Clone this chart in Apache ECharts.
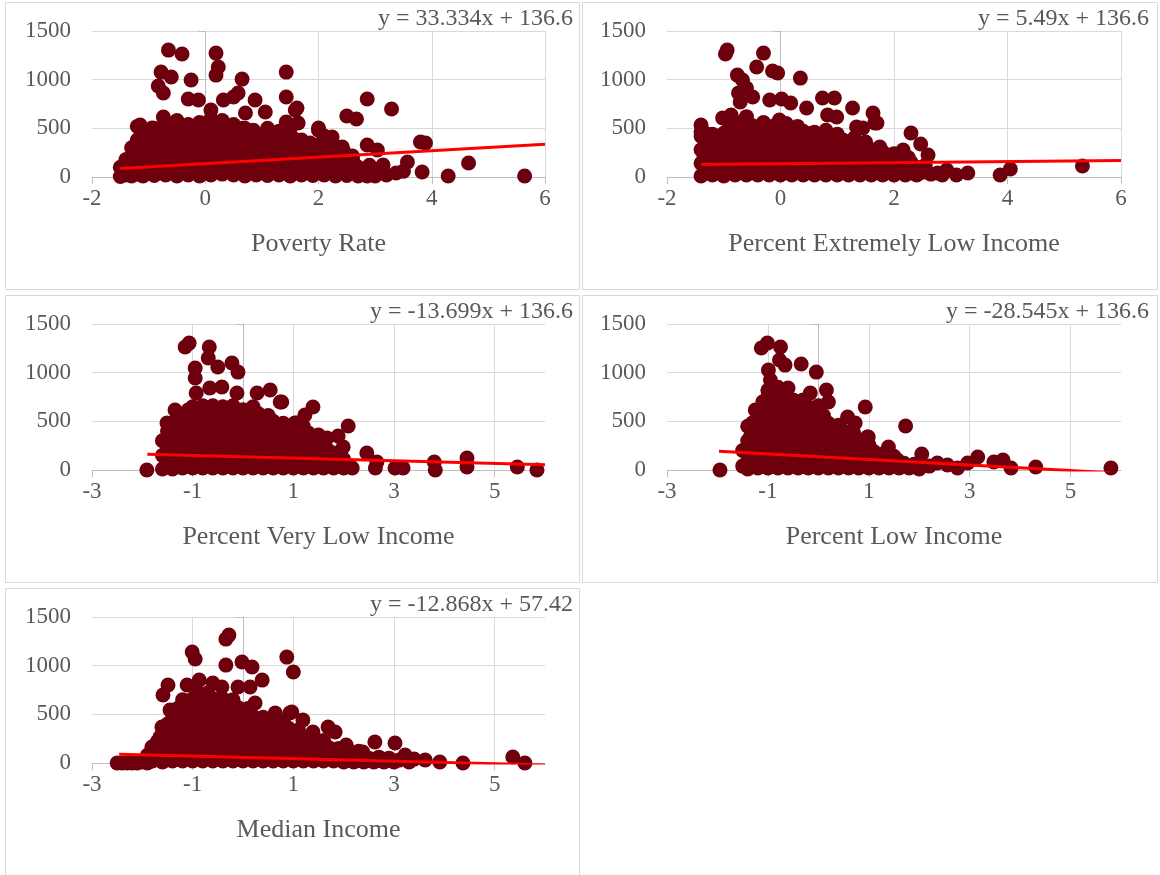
<!DOCTYPE html>
<html>
<head>
<meta charset="utf-8">
<script src="https://cdn.jsdelivr.net/npm/echarts@6/dist/echarts.min.js"></script>
<style>
  html, body { margin: 0; padding: 0; background: #ffffff; }
  #chart { width: 1160px; height: 875px; }
</style>
</head>
<body>
<div id="chart"></div>
<script>
// Standardized predictor (x) vs. outcome count (y), one panel per predictor.
const povertyRate = [
  [-0.65,1304],[-0.41,1263],[0.19,1273],[0.23,1130],[0.19,1047],[-0.78,1078],[-0.6,1027],[-0.25,996],
  [-0.83,935],[-0.74,863],[0.65,1006],[1.43,1078],[1.43,822],[-0.3,801],[-0.12,791],[0.32,791],
  [0.58,863],[0.5,822],[0.88,791],[1.06,668],[0.1,688],[0.71,657],[-0.74,616],[-1.15,534],
  [-0.94,503],[1.59,688],[1.62,709],[1.43,565],[1.64,555],[2.5,626],[2.67,596],[2.86,801],
  [3.29,698],[2.0,503],[2.24,411],[2.42,308],[2.86,329],[3.04,277],[3.8,360],[3.89,349],
  [3.57,154],[3.37,41],[3.83,51],[4.29,10],[4.65,144],[5.64,10],[2.86,10],[3.14,123],[2.6,216],
  [-1.5,5],[-1.5,100],[-1.4,20],[-1.4,180],[-1.3,10],[-1.3,150],[-1.3,300],
  [-1.2,30],[-1.2,200],[-1.2,380],[-1.2,520],[-1.1,10],[-1.1,160],[-1.1,320],[-1.1,480],
  [-1.0,40],[-1.0,240],[-1.0,420],[-0.9,15],[-0.9,170],[-0.9,330],[-0.9,500],
  [-0.8,60],[-0.8,260],[-0.8,450],[-0.7,20],[-0.7,190],[-0.7,370],[-0.7,560],
  [-0.6,80],[-0.6,280],[-0.6,470],[-0.5,10],[-0.5,200],[-0.5,390],[-0.5,580],
  [-0.4,50],[-0.4,250],[-0.4,450],[-0.3,20],[-0.3,180],[-0.3,360],[-0.3,540],
  [-0.2,70],[-0.2,280],[-0.2,470],[-0.1,10],[-0.1,200],[-0.1,380],[-0.1,560],
  [0.0,60],[0.0,260],[0.0,450],[0.1,20],[0.1,190],[0.1,370],[0.1,600],
  [0.2,80],[0.2,300],[0.2,500],[0.3,30],[0.3,210],[0.3,400],[0.3,580],
  [0.4,90],[0.4,280],[0.4,460],[0.5,20],[0.5,200],[0.5,380],[0.5,540],
  [0.6,70],[0.6,260],[0.6,440],[0.7,10],[0.7,180],[0.7,350],[0.7,500],
  [0.8,60],[0.8,240],[0.8,420],[0.9,20],[0.9,190],[0.9,360],
  [1.0,80],[1.0,250],[1.0,440],[1.1,15],[1.1,180],[1.1,340],[1.1,500],
  [1.2,70],[1.2,250],[1.2,420],[1.3,20],[1.3,170],[1.3,330],[1.3,470],
  [1.4,60],[1.4,230],[1.4,400],[1.5,10],[1.5,160],[1.5,320],[1.5,500],
  [1.6,80],[1.6,250],[1.7,20],[1.7,180],[1.7,380],[1.8,90],[1.8,260],
  [1.9,15],[1.9,170],[1.9,330],[2.0,60],[2.0,240],[2.0,480],
  [2.1,20],[2.1,150],[2.1,300],[2.1,420],[2.2,80],[2.2,230],[2.3,10],[2.3,150],[2.3,300],
  [2.4,60],[2.4,200],[2.5,15],[2.5,120],[2.6,50],[2.6,180],[2.7,10],[2.7,100],
  [2.9,30],[2.9,120],[3.0,10],[3.1,90],
  [-1.45,60],[-1.35,120],[-1.25,250],[-1.15,100],[-1.15,400],[-1.05,300],[-1.05,130],[-0.95,250],
  [-0.95,420],[-0.85,120],[-0.85,360],[-0.75,280],[-0.75,460],[-0.65,130],[-0.65,380],[-0.55,300],
  [-0.55,480],[-0.45,140],[-0.45,350],[-0.35,280],[-0.35,460],[-0.25,130],[-0.25,380],[-0.15,300],
  [-0.15,500],[-0.05,130],[-0.05,350],[0.05,280],[0.05,480],[0.15,120],[0.15,420],[0.25,300],
  [0.25,500],[0.35,140],[0.35,350],[0.45,280],[0.45,480],[0.55,120],[0.55,400],[0.65,300],
  [0.65,500],[0.75,130],[0.75,420],[0.85,300],[0.85,480],[0.95,120],[0.95,400],[1.05,300],
  [1.15,120],[1.15,420],[1.25,320],[1.35,120],[1.35,420],[1.45,300],[1.55,120],[1.55,400],
  [1.65,320],[1.75,120],[1.85,350],[1.95,100],[2.05,350],[2.15,100],[2.25,350],[2.35,100],
  [2.45,260],[2.55,80],[2.65,120],[2.8,60],[3.2,20],[3.5,60]
];

const extremelyLowIncome = [
  [-0.94,1304],[-0.97,1263],[-0.3,1273],[-0.42,1130],[-0.14,1089],[-0.05,1068],[0.35,1016],
  [-0.76,1047],[-0.67,996],[-0.74,863],[-0.6,914],[-0.49,822],[-0.71,770],[-0.19,791],[0.02,801],
  [0.18,760],[0.46,709],[0.74,811],[0.95,811],[1.27,709],[1.63,657],[1.66,555],[0.83,637],
  [0.99,616],[-1.4,534],[-1.4,462],[-1.02,606],[-0.87,637],[-0.02,585],[1.34,514],
  [1.7,555],[1.45,503],[2.3,452],[2.47,339],[2.6,226],[2.16,277],[1.75,308],
  [2.77,41],[2.93,72],[3.1,20],[3.3,41],[3.87,20],[4.05,82],[5.32,113],[2.42,41],
  [-1.4,10],[-1.4,140],[-1.4,280],[-1.4,420],[-1.3,60],[-1.3,200],[-1.3,350],
  [-1.2,20],[-1.2,160],[-1.2,300],[-1.2,440],[-1.1,80],[-1.1,230],[-1.1,380],
  [-1.0,10],[-1.0,150],[-1.0,300],[-1.0,450],[-0.9,60],[-0.9,210],[-0.9,360],[-0.9,520],
  [-0.8,20],[-0.8,170],[-0.8,320],[-0.8,470],[-0.7,90],[-0.7,240],[-0.7,400],[-0.7,560],
  [-0.6,20],[-0.6,160],[-0.6,310],[-0.6,460],[-0.6,620],[-0.5,80],[-0.5,230],[-0.5,380],[-0.5,530],
  [-0.4,20],[-0.4,170],[-0.4,320],[-0.4,470],[-0.3,90],[-0.3,240],[-0.3,400],[-0.3,560],
  [-0.2,20],[-0.2,160],[-0.2,310],[-0.2,460],[-0.1,80],[-0.1,230],[-0.1,380],[-0.1,530],
  [0.0,20],[0.0,170],[0.0,320],[0.0,470],[0.1,90],[0.1,240],[0.1,400],[0.1,550],
  [0.2,20],[0.2,160],[0.2,310],[0.2,460],[0.3,80],[0.3,230],[0.3,380],[0.3,520],
  [0.4,20],[0.4,170],[0.4,320],[0.4,470],[0.5,90],[0.5,240],[0.5,400],
  [0.6,20],[0.6,160],[0.6,310],[0.6,460],[0.7,80],[0.7,230],[0.7,380],
  [0.8,20],[0.8,170],[0.8,320],[0.8,480],[0.9,90],[0.9,240],[0.9,400],
  [1.0,20],[1.0,160],[1.0,310],[1.0,440],[1.1,80],[1.1,230],[1.1,380],
  [1.2,20],[1.2,170],[1.2,320],[1.3,90],[1.3,240],[1.3,400],[1.4,20],[1.4,160],[1.4,300],
  [1.5,80],[1.5,220],[1.5,360],[1.6,20],[1.6,150],[1.6,280],[1.7,70],[1.7,200],
  [1.8,20],[1.8,140],[1.8,260],[1.9,60],[1.9,180],[2.0,20],[2.0,130],[2.0,240],
  [2.1,60],[2.1,170],[2.2,20],[2.2,110],[2.3,60],[2.3,150],[2.4,20],[2.4,100],[2.5,50],
  [-1.35,220],[-1.35,460],[-1.25,100],[-1.25,380],[-1.15,300],[-1.05,120],[-1.05,380],[-0.95,280],
  [-0.85,120],[-0.85,400],[-0.75,300],[-0.65,120],[-0.65,390],[-0.55,300],[-0.45,120],[-0.45,400],
  [-0.35,300],[-0.25,120],[-0.25,400],[-0.15,300],[-0.05,120],[-0.05,400],[0.05,300],[0.15,120],
  [0.15,470],[0.25,300],[0.35,120],[0.35,440],[0.45,300],[0.55,120],[0.55,450],[0.65,300],
  [0.75,120],[0.75,430],[0.85,300],[0.95,120],[0.95,350],[1.05,240],[1.15,120],[1.15,320],
  [1.25,250],[1.35,120],[1.35,320],[1.45,230],[1.55,120],[1.65,220],[1.75,120],[1.85,200],
  [1.95,100],[2.05,180],[2.15,100],[2.25,200],[2.35,40],[2.55,120],[2.65,30],[2.85,20]
];

const veryLowIncome = [
  [-1.91,0],[-1.15,1263],[-1.07,1304],[-0.67,1263],[-0.69,1150],[-0.5,1058],[-0.22,1099],[-0.1,1006],
  [-0.95,1047],[-0.95,945],[-0.93,791],[-0.66,842],[-0.42,853],[-0.12,791],[0.28,791],[0.54,822],
  [0.74,698],[-1.35,616],[-1.09,616],[-1.51,483],[1.03,483],
  [0.77,698],[1.39,647],[1.23,565],[1.07,483],[2.09,452],[1.89,349],[1.99,236],[2.46,175],
  [2.66,82],[2.63,20],[3.02,20],[3.18,20],[3.8,82],[3.82,0],[4.45,123],[4.45,31],[5.45,31],
  [5.84,0],[2.17,20],[1.59,277],[1.67,329],
  [-1.6,10],[-1.6,150],[-1.6,300],[-1.5,60],[-1.5,220],[-1.5,400],
  [-1.4,10],[-1.4,160],[-1.4,320],[-1.4,480],[-1.3,80],[-1.3,240],[-1.3,400],[-1.3,560],
  [-1.2,20],[-1.2,180],[-1.2,340],[-1.2,500],[-1.1,90],[-1.1,250],[-1.1,410],[-1.1,570],
  [-1.0,20],[-1.0,180],[-1.0,340],[-1.0,500],[-1.0,650],[-0.9,90],[-0.9,250],[-0.9,410],[-0.9,570],
  [-0.8,20],[-0.8,180],[-0.8,340],[-0.8,500],[-0.8,660],[-0.7,90],[-0.7,250],[-0.7,410],[-0.7,570],
  [-0.6,20],[-0.6,180],[-0.6,340],[-0.6,500],[-0.6,660],[-0.5,90],[-0.5,250],[-0.5,410],[-0.5,570],
  [-0.4,20],[-0.4,180],[-0.4,340],[-0.4,500],[-0.4,650],[-0.3,90],[-0.3,250],[-0.3,410],[-0.3,570],
  [-0.2,20],[-0.2,180],[-0.2,340],[-0.2,500],[-0.2,660],[-0.1,90],[-0.1,250],[-0.1,410],[-0.1,560],
  [0.0,20],[0.0,180],[0.0,340],[0.0,500],[0.0,620],[0.1,90],[0.1,250],[0.1,410],[0.1,560],
  [0.2,20],[0.2,180],[0.2,340],[0.2,500],[0.2,650],[0.3,90],[0.3,250],[0.3,410],[0.3,580],
  [0.4,20],[0.4,180],[0.4,340],[0.4,500],[0.5,90],[0.5,250],[0.5,410],[0.5,560],
  [0.6,20],[0.6,180],[0.6,340],[0.6,500],[0.7,90],[0.7,250],[0.7,410],
  [0.8,20],[0.8,180],[0.8,340],[0.8,480],[0.9,90],[0.9,250],[0.9,400],
  [1.0,20],[1.0,180],[1.0,340],[1.1,90],[1.1,250],[1.1,400],
  [1.2,20],[1.2,170],[1.2,320],[1.2,450],[1.3,80],[1.3,230],[1.3,380],
  [1.4,20],[1.4,160],[1.4,300],[1.5,80],[1.5,220],[1.5,360],[1.6,20],[1.6,150],
  [1.7,70],[1.7,200],[1.8,20],[1.8,140],[1.9,60],[1.9,180],[2.0,20],[2.0,110],[2.1,50],
  [-1.45,120],[-1.35,300],[-1.25,120],[-1.15,330],[-1.05,120],[-0.95,330],[-0.85,120],[-0.75,330],
  [-0.65,120],[-0.55,330],[-0.45,120],[-0.35,330],[-0.25,120],[-0.15,330],[-0.05,120],[0.05,330],
  [0.15,120],[0.25,330],[0.35,120],[0.45,330],[0.55,120],[0.65,330],[0.75,120],[0.85,330],
  [0.95,120],[1.05,300],[1.15,120],[1.25,250],[1.35,120],[1.45,230],[1.55,100],[1.75,130],[1.95,80]
];

const lowIncome = [
  [-1.95,0],[-1.13,1253],[-1.01,1304],[-0.75,1263],[-0.77,1130],[-0.66,1078],[-0.99,1027],[-0.34,1089],
  [-0.04,1006],[-0.95,924],[-0.99,791],[-0.6,842],[-0.16,791],[0.16,822],[0.2,698],[0.93,647],
  [0.58,544],[0.73,483],[-1.25,616],[-1.31,483],[-1.35,339],[0.97,339],
  [1.73,452],[1.39,236],[0.99,339],[2.05,164],[2.36,72],[2.56,51],[2.96,72],[3.16,134],
  [3.48,82],[3.66,103],[3.82,20],[4.31,31],[5.8,20],[2.76,20],[1.57,103],
  [-1.5,40],[-1.5,200],[-1.4,10],[-1.4,150],[-1.4,300],[-1.4,450],[-1.3,80],[-1.3,230],[-1.3,380],
  [-1.2,20],[-1.2,170],[-1.2,320],[-1.2,470],[-1.1,90],[-1.1,250],[-1.1,410],[-1.1,570],[-1.1,700],
  [-1.0,20],[-1.0,180],[-1.0,340],[-1.0,500],[-1.0,660],[-1.0,820],
  [-0.9,90],[-0.9,250],[-0.9,410],[-0.9,570],[-0.9,730],
  [-0.8,20],[-0.8,180],[-0.8,340],[-0.8,500],[-0.8,660],[-0.8,850],
  [-0.7,90],[-0.7,250],[-0.7,410],[-0.7,570],[-0.7,730],
  [-0.6,20],[-0.6,180],[-0.6,340],[-0.6,500],[-0.6,660],
  [-0.5,90],[-0.5,250],[-0.5,410],[-0.5,570],[-0.5,720],
  [-0.4,20],[-0.4,180],[-0.4,340],[-0.4,500],[-0.4,660],
  [-0.3,90],[-0.3,250],[-0.3,410],[-0.3,570],[-0.3,720],
  [-0.2,20],[-0.2,180],[-0.2,340],[-0.2,500],[-0.2,650],
  [-0.1,90],[-0.1,250],[-0.1,410],[-0.1,570],
  [0.0,20],[0.0,180],[0.0,340],[0.0,500],[0.0,660],[0.1,90],[0.1,250],[0.1,410],[0.1,560],
  [0.2,20],[0.2,180],[0.2,340],[0.2,480],[0.3,90],[0.3,250],[0.3,400],
  [0.4,20],[0.4,180],[0.4,340],[0.4,460],[0.5,90],[0.5,250],[0.5,400],
  [0.6,20],[0.6,170],[0.6,320],[0.7,80],[0.7,230],[0.7,380],[0.8,20],[0.8,160],[0.8,300],
  [0.9,70],[0.9,210],[1.0,20],[1.0,150],[1.0,260],[1.1,70],[1.1,190],[1.2,20],[1.2,130],
  [1.3,60],[1.3,170],[1.4,20],[1.4,100],[1.5,50],[1.5,140],[1.6,20],[1.7,70],[1.8,20],
  [1.9,60],[2.0,10],[2.2,40],
  [-1.35,200],[-1.25,100],[-1.15,330],[-1.05,120],[-0.95,330],[-0.85,120],[-0.75,330],[-0.65,120],
  [-0.55,330],[-0.45,120],[-0.35,330],[-0.25,120],[-0.15,330],[-0.05,120],[0.05,330],[0.15,120],
  [0.25,330],[0.35,120],[0.45,300],[0.55,120],[0.65,250],[0.75,120],[0.85,200],[0.95,100],
  [1.05,200],[1.25,80],[1.45,60]
];

const medianIncome = [
  [-1.01,1140],[-0.95,1068],[-0.34,1273],[-0.28,1314],[-0.34,1006],[-0.02,1037],[0.18,986],[0.38,852],
  [0.87,1088],[1.0,935],[-1.49,801],[-1.59,698],[-1.11,801],[-0.87,852],[-0.6,822],[-0.42,781],
  [-0.1,781],[0.14,781],[0.24,616],[0.64,513],[0.93,513],[-1.45,544],[-1.61,370],[-1.65,267],[-1.81,164],
  [0.97,524],[1.19,442],[1.69,370],[1.83,318],[1.39,318],[2.05,185],[2.62,216],[3.02,205],
  [3.22,82],[3.62,31],[3.91,10],[4.37,0],[5.36,62],[5.6,0],[2.38,113],
  [-2.5,0],[-2.4,0],[-2.3,0],[-2.2,0],[-2.1,0],[-2.0,10],[-1.9,0],[-1.9,80],
  [-1.8,20],[-1.8,150],[-1.7,60],[-1.7,220],[-1.6,10],[-1.6,160],[-1.6,300],
  [-1.5,80],[-1.5,240],[-1.5,400],[-1.4,20],[-1.4,180],[-1.4,340],[-1.4,500],
  [-1.3,90],[-1.3,250],[-1.3,410],[-1.3,560],[-1.2,20],[-1.2,180],[-1.2,340],[-1.2,500],[-1.2,650],
  [-1.1,90],[-1.1,250],[-1.1,410],[-1.1,570],[-1.0,20],[-1.0,180],[-1.0,340],[-1.0,500],[-1.0,660],
  [-0.9,90],[-0.9,250],[-0.9,410],[-0.9,570],[-0.9,720],[-0.8,20],[-0.8,180],[-0.8,340],[-0.8,500],[-0.8,660],
  [-0.7,90],[-0.7,250],[-0.7,410],[-0.7,570],[-0.7,720],[-0.6,20],[-0.6,180],[-0.6,340],[-0.6,500],[-0.6,660],
  [-0.5,90],[-0.5,250],[-0.5,410],[-0.5,570],[-0.4,20],[-0.4,180],[-0.4,340],[-0.4,500],[-0.4,660],
  [-0.3,90],[-0.3,250],[-0.3,410],[-0.3,570],[-0.2,20],[-0.2,180],[-0.2,340],[-0.2,500],[-0.2,650],
  [-0.1,90],[-0.1,250],[-0.1,410],[-0.1,570],[0.0,20],[0.0,180],[0.0,340],[0.0,500],
  [0.1,90],[0.1,250],[0.1,410],[0.1,560],[0.2,20],[0.2,180],[0.2,340],[0.2,480],
  [0.3,90],[0.3,250],[0.3,410],[0.4,20],[0.4,180],[0.4,340],[0.4,470],[0.5,90],[0.5,250],[0.5,400],
  [0.6,20],[0.6,170],[0.6,320],[0.6,440],[0.7,80],[0.7,230],[0.7,380],
  [0.8,20],[0.8,160],[0.8,300],[0.8,430],[0.9,80],[0.9,220],[0.9,360],
  [1.0,20],[1.0,150],[1.0,280],[1.1,70],[1.1,200],[1.1,340],[1.2,20],[1.2,140],[1.2,260],
  [1.3,60],[1.3,180],[1.4,20],[1.4,130],[1.4,250],[1.5,60],[1.5,170],[1.6,20],[1.6,120],[1.6,230],
  [1.7,60],[1.7,160],[1.8,20],[1.8,110],[1.9,50],[1.9,150],[2.0,10],[2.0,100],
  [2.1,40],[2.1,130],[2.2,10],[2.2,80],[2.3,40],[2.3,120],[2.4,10],[2.5,50],[2.6,10],
  [2.7,60],[2.8,10],[2.9,50],[3.0,10],[3.1,30],[3.3,10],[3.4,40],
  [-1.45,120],[-1.35,330],[-1.25,120],[-1.15,330],[-1.05,120],[-0.95,330],[-0.85,120],[-0.75,330],
  [-0.65,120],[-0.55,330],[-0.45,120],[-0.35,330],[-0.25,120],[-0.15,330],[-0.05,120],[0.05,330],
  [0.15,120],[0.25,330],[0.35,120],[0.45,330],[0.55,120],[0.65,300],[0.75,120],[0.85,300],
  [0.95,120],[1.05,250],[1.15,120],[1.35,100],[1.55,80],[1.75,80]
];

const panelSeries = [povertyRate, extremelyLowIncome, veryLowIncome, lowIncome, medianIncome];
const axisTitles = ['Poverty Rate', 'Percent Extremely Low Income', 'Percent Very Low Income', 'Percent Low Income', 'Median Income'];
const slopes = [33.334, 5.49, -13.699, -28.545, -12.868];
const intercepts = [136.6, 136.6, 136.6, 136.6, 57.42];
const equationLabels = ['y = 33.334x + 136.6', 'y = 5.49x + 136.6', 'y = -13.699x + 136.6', 'y = -28.545x + 136.6', 'y = -12.868x + 57.42'];
const trendSpans = [[-1.5, 6], [-1.4, 6], [-1.9, 6], [-1.97, 5.8], [-2.46, 6]];
const xTicksEven = [-2, 0, 2, 4, 6];
const xTicksOdd = [-3, -1, 1, 3, 5];
const yTicks = [0, 500, 1000, 1500];

// Panel frames and plot areas (pixels)
const frames = [
  [5.5, 2.5, 574, 287], [582.5, 2.5, 575, 287],
  [5.5, 295.5, 574, 287], [582.5, 295.5, 575, 287],
  [5.5, 588.5, 574, 300]
];
const plots = [
  [92, 31, 453, 146], [667, 31, 454, 146],
  [92, 324, 453, 146], [667, 324, 454, 146],
  [92, 617, 453, 146]
];
const xUsesEven = [true, true, false, false, false];

const FONT = "'Liberation Serif', 'Times New Roman', serif";
const TEXT = '#595959';
const AXIS = '#bfbfbf';
const GRID = '#d9d9d9';
const DOT = '#6e000e';

const grids = [], xAxes = [], yAxes = [], series = [], graphics = [];

frames.forEach(f => graphics.push({
  type: 'rect', silent: true, z: 0,
  shape: { x: f[0], y: f[1], width: f[2], height: f[3] },
  style: { fill: 'none', stroke: GRID, lineWidth: 1 }
}));

plots.forEach((p, i) => {
  grids.push({ left: p[0], top: p[1], width: p[2], height: p[3], containLabel: false });
  const ticks = xUsesEven[i] ? xTicksEven : xTicksOdd;
  xAxes.push({
    type: 'value', gridIndex: i,
    min: ticks[0], max: 6, interval: 2,
    name: axisTitles[i], nameLocation: 'middle', nameGap: 54,
    nameTextStyle: { fontFamily: FONT, fontSize: 26, color: TEXT },
    axisLine: { show: true, onZero: false, lineStyle: { color: AXIS, width: 1 } },
    axisTick: { show: true, length: 7, lineStyle: { color: AXIS }, customValues: ticks },
    axisLabel: { fontFamily: FONT, fontSize: 23, color: TEXT, margin: 10, customValues: ticks, formatter: v => String(v) },
    splitLine: { show: true, showMinLine: false, showMaxLine: true, lineStyle: { color: GRID, width: 1 } }
  });
  yAxes.push({
    type: 'value', gridIndex: i,
    min: 0, max: 1500, interval: 500,
    axisLine: { show: true, lineStyle: { color: AXIS, width: 1 } },
    axisTick: { show: true, length: 7, lineStyle: { color: AXIS } },
    axisLabel: { fontFamily: FONT, fontSize: 23, color: TEXT, margin: 21, customValues: yTicks, formatter: v => String(v) },
    splitLine: { show: true, showMinLine: false, lineStyle: { color: GRID, width: 1 } }
  });
  series.push({
    type: 'scatter', xAxisIndex: i, yAxisIndex: i,
    symbol: 'circle', symbolSize: 15,
    itemStyle: { color: DOT, opacity: 1 },
    data: panelSeries[i], silent: true, z: 2,
    animation: false
  });
  const [x0, x1] = trendSpans[i];
  series.push({
    type: 'line', xAxisIndex: i, yAxisIndex: i,
    data: [[x0, slopes[i] * x0 + intercepts[i]], [x1, slopes[i] * x1 + intercepts[i]]],
    symbol: 'none', silent: true, z: 3,
    lineStyle: { color: '#ff0000', width: 3 },
    animation: false
  });
  graphics.push({
    type: 'text', silent: true, z: 10,
    x: p[0] + p[2] + 28, y: p[1] - 12,
    style: {
      text: equationLabels[i], fill: TEXT,
      font: '24px ' + FONT, align: 'right', verticalAlign: 'middle'
    }
  });
});

const chart = echarts.init(document.getElementById('chart'), null, { renderer: 'canvas' });
chart.setOption({
  animation: false,
  backgroundColor: '#ffffff',
  grid: grids,
  xAxis: xAxes,
  yAxis: yAxes,
  series: series,
  graphic: graphics
});
</script>
</body>
</html>
